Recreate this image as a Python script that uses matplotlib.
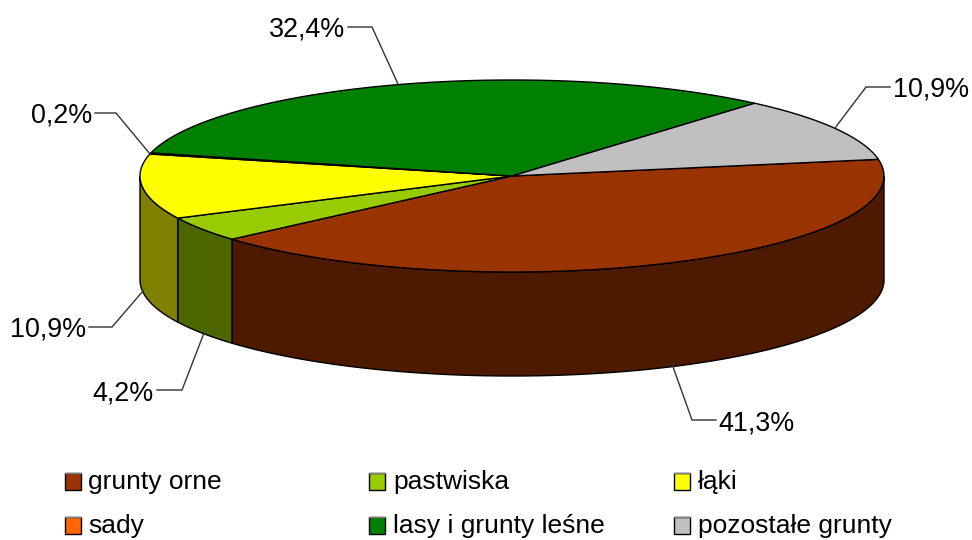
"""Land use structure: tilted 3D pie drawn from flat polygons, in pixel coordinates."""
import numpy as np
import matplotlib
matplotlib.use("Agg")
import matplotlib.pyplot as plt
from matplotlib.patches import Polygon, Rectangle

plt.rcParams["font.family"] = ["Liberation Sans", "DejaVu Sans"]

# --------------------------------------------------------------------------
# Data
# --------------------------------------------------------------------------
categories = ["grunty orne", "pastwiska", "łąki", "sady",
              "lasy i grunty leśne", "pozostałe grunty"]
shares = [41.3, 4.2, 10.9, 0.2, 32.4, 10.9]
share_labels = ["41,3%", "4,2%", "10,9%", "0,2%", "32,4%", "10,9%"]

top_colors = ["#993300", "#99CC00", "#FFFF00", "#FF6600", "#008000", "#C0C0C0"]
wall_colors = ["#4D1A00", "#4D6600", "#808000", "#803300", "#004000", "#606060"]

# --------------------------------------------------------------------------
# Layout (pixels)
# --------------------------------------------------------------------------
CX, CY = 512.0, 176.0
RX, RY = 372.0, 96.0
DEPTH = 104.0
START_DEG = 10.0

# text anchor, then the leader: label end, elbow, point on the pie
LABEL_TEXT = [(718, 420, "left"), (154, 390, "right"), (86, 327, "right"),
              (92, 113, "right"), (345, 27, "right"), (893, 87, "left")]
LEADERS = [[(716, 420), (692, 420), (672, 364)],
           [(157, 390), (182, 390), (204, 333)],
           [(89, 327), (112, 327), (143, 291)],
           [(95, 113), (116, 113), (150, 154)],
           [(348, 27), (372, 27), (398, 84)],
           [(890, 87), (866, 87), (835, 128)]]

LEGEND_COLS = [(65, 88), (369, 393), (674, 698)]
LEGEND_ROWS = [482, 526]
LEGEND_BASELINE = 7.5
FONT_SIZE = 19.4
LEGEND_FONT_SIZE = 19.0


def rim(a0, a1, dy=0.0, n=120):
    """Points on the ellipse between two angles (degrees), shifted down by dy."""
    t = np.radians(np.linspace(a0, a1, n))
    return np.column_stack([CX + RX * np.cos(t), CY - RY * np.sin(t) + dy])


def main() -> None:
    fig = plt.figure(figsize=(9.72, 5.4), dpi=100)
    ax = fig.add_axes([0, 0, 1, 1])
    ax.set_xlim(0, 972)
    ax.set_ylim(540, 0)
    ax.axis("off")

    # slices run clockwise from the start angle
    fractions = np.array(shares) / np.sum(shares)
    ends = START_DEG - 360.0 * np.cumsum(fractions)
    starts = np.r_[START_DEG, ends[:-1]]

    # side walls: only the front half of the rim (0 to -180 degrees) is visible
    for a0, a1, col in zip(starts, ends, wall_colors):
        lo, hi = max(a1, -180.0), min(a0, 0.0)
        if hi <= lo:
            continue
        top = rim(hi, lo)
        bottom = rim(lo, hi, dy=DEPTH)
        ax.add_patch(Polygon(np.vstack([top, bottom]), closed=True, facecolor=col,
                             edgecolor="black", linewidth=1.0, zorder=2))

    # top face
    for a0, a1, col in zip(starts, ends, top_colors):
        pts = np.vstack([[CX, CY], rim(a0, a1)])
        ax.add_patch(Polygon(pts, closed=True, facecolor=col, edgecolor="black",
                             linewidth=1.0, zorder=3))

    # value labels with elbow leaders
    for text, (x, y, ha), leader in zip(share_labels, LABEL_TEXT, LEADERS):
        ax.text(x, y, text, ha=ha, va="center_baseline", fontsize=FONT_SIZE,
                color="black", zorder=5)
        xs, ys = zip(*leader)
        ax.plot(xs, ys, color="#333333", linewidth=1.0, zorder=4,
                solid_joinstyle="miter")

    # legend: filled column by column in reading order
    for i, (name, col) in enumerate(zip(categories, top_colors)):
        box_x, text_x = LEGEND_COLS[i % 3]
        y = LEGEND_ROWS[i // 3]
        ax.add_patch(Rectangle((box_x, y - 9), 16, 17, facecolor=col,
                               edgecolor="black", linewidth=1.0, zorder=3))
        # the swatch has a lighter top edge
        ax.plot([box_x, box_x + 16], [y - 9, y - 9], color="#808080",
                linewidth=1.0, zorder=4)
        ax.text(text_x, y + LEGEND_BASELINE, name, ha="left", va="baseline",
                fontsize=LEGEND_FONT_SIZE, color="black")

    fig.savefig("out.png", dpi=100, facecolor="white")
    plt.close(fig)


if __name__ == "__main__":
    main()
